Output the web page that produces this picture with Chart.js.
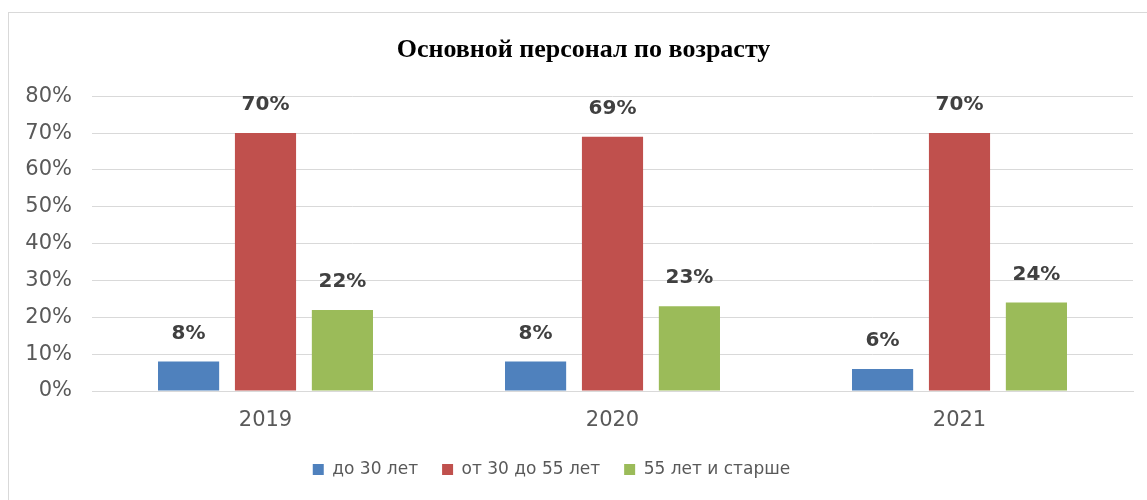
<!DOCTYPE html>
<html>
<head>
<meta charset="utf-8">
<script src="https://cdn.jsdelivr.net/npm/chart.js@4.4.0/dist/chart.umd.min.js"></script>
<style>
  body { margin: 0; background: #fff; }
  #frame { position: absolute; left: 8px; top: 12px; width: 1150px; height: 500px; border: 1px solid #d9d9d9; }
  #wrap { position: absolute; left: 0; top: 0; width: 1147px; height: 500px; }
</style>
</head>
<body>
<div id="frame"></div>
<div id="wrap"><canvas id="myChart"></canvas></div>
<script>
var years = ['2019', '2020', '2021']
var under30 = [8, 8, 6]
var from30to55 = [70, 69, 70]
var over55 = [22, 23, 24]
var seriesNames = ['до 30 лет', 'от 30 до 55 лет', '55 лет и старше']

const sans = '"DejaVu Sans", Verdana, sans-serif';

// labels over the bars
const barLabels = {
    id: 'barLabels',
    afterDatasetsDraw(chart) {
        const ctx = chart.ctx;
        ctx.save();
        ctx.font = 'bold 20px ' + sans;
        ctx.fillStyle = '#404040';
        ctx.textAlign = 'center';
        ctx.textBaseline = 'middle';
        chart.data.datasets.forEach((ds, i) => {
            chart.getDatasetMeta(i).data.forEach((bar, k) => {
                ctx.fillText(ds.data[k] + '%', bar.x, bar.y - 28);
            });
        });
        ctx.restore();
    }
};

// in the original the title sits a bit right, the legend a bit left
const nudge = {
    id: 'nudge',
    afterLayout(chart) {
        chart.titleBlock.left += 17;
        chart.titleBlock.right += 17;
        chart.legend.left -= 15;
        chart.legend.right -= 15;
    }
};

const config = {
    type: 'bar',
    data: {
        labels: years,
        datasets: [{
            label: seriesNames[0],
            backgroundColor: '#4f81bd',
            data: under30,
        }, {
            label: seriesNames[1],
            backgroundColor: '#c0504d',
            data: from30to55,
        }, {
            label: seriesNames[2],
            backgroundColor: '#9bbb59',
            data: over55,
        }]
    },
    options: {
        responsive: true,
        maintainAspectRatio: false,
        animation: false,
        categoryPercentage: 0.665,
        barPercentage: 0.795,
        layout: { padding: { top: 35, left: 0, right: 14, bottom: 12 } },
        plugins: {
            title: {
                display: true,
                text: 'Основной персонал по возрасту',
                color: '#000',
                font: { family: '"Liberation Serif", "Times New Roman", serif', size: 26, weight: 'bold' },
                padding: { top: 0, bottom: 30 }
            },
            legend: {
                position: 'bottom',
                labels: {
                    boxWidth: 11,
                    boxHeight: 11,
                    padding: 24,
                    color: '#595959',
                    font: { family: sans, size: 17 }
                }
            },
            tooltip: { enabled: false }
        },
        scales: {
            x: {
                grid: { display: false, drawTicks: false },
                border: { color: '#d9d9d9' },
                ticks: {
                    color: '#595959',
                    padding: 17,
                    font: { family: sans, size: 21 }
                },
                afterFit(scale) { scale.height = 46; }
            },
            y: {
                min: 0,
                max: 80,
                grid: { color: '#d9d9d9', drawTicks: false },
                border: { display: false },
                ticks: {
                    stepSize: 10,
                    color: '#595959',
                    padding: 20,
                    font: { family: sans, size: 21 },
                    callback: (v) => v + '%'
                },
                afterFit(scale) { scale.width = 92; }
            }
        }
    },
    plugins: [barLabels, nudge]
};
const myChart = new Chart(
    document.getElementById('myChart'),
    config
);
</script>
</body>
</html>
